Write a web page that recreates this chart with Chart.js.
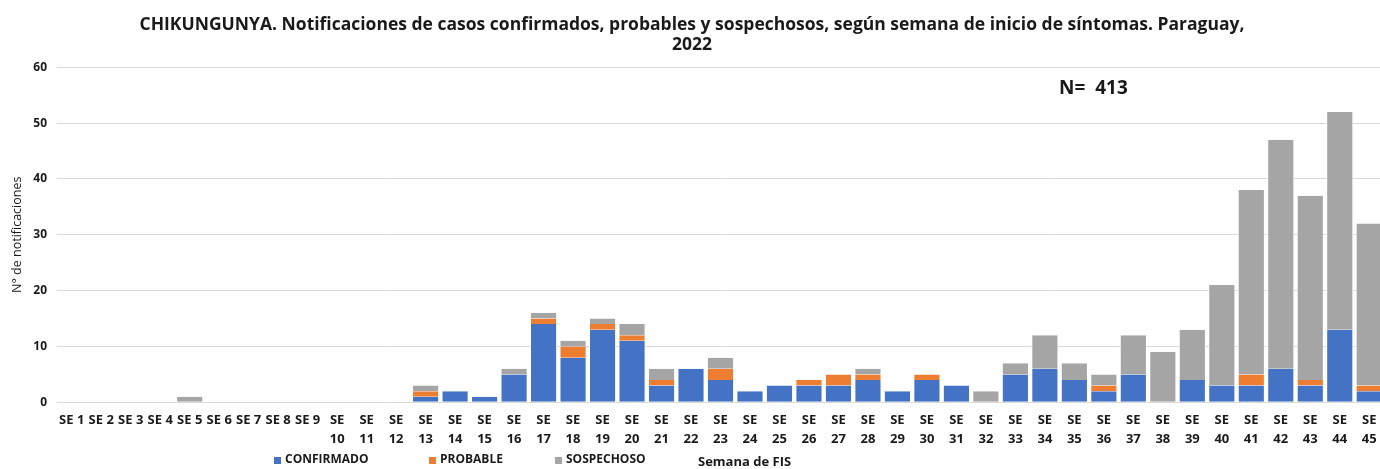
<!DOCTYPE html>
<html lang="es">
<head>
    <meta charset="UTF-8">
    <title>Chikungunya Paraguay 2022</title>
    <style>
        body { margin: 0; padding: 0; background: #fff; overflow: hidden; }
        #wrap { width: 1384px; height: 469px; }
    </style>
</head>
<body>
    <div id="wrap"><canvas id="chart"></canvas></div>

    <script src="https://cdn.jsdelivr.net/npm/chart.js"></script>
    <script>
        // Semanas epidemiologicas
        const semanas = [];
        for (let i = 1; i <= 45; i++) semanas.push(i);
        const etiquetas = semanas.map(s => s < 10 ? 'SE ' + s : ['SE', String(s)]);

        // Casos por semana (SE 1 .. SE 45)
        const confirmado = [0,0,0,0,0,0,0,0,0,0,0,0,1,2,1,5,14,8,13,11,3,6,4,2,3,3,3,4,2,4,3,0,5,6,4,2,5,0,4,3,3,6,3,13,2];
        const probable   = [0,0,0,0,0,0,0,0,0,0,0,0,1,0,0,0,1,2,1,1,1,0,2,0,0,1,2,1,0,1,0,0,0,0,0,1,0,0,0,0,2,0,1,0,1];
        const sospechoso = [0,0,0,0,1,0,0,0,0,0,0,0,1,0,0,1,1,1,1,2,2,0,2,0,0,0,0,1,0,0,0,2,2,6,3,2,7,9,9,18,33,41,33,39,29];

        const yTicks = [0, 10, 20, 30, 40, 50, 60];
        const totalN = 413;

        const azul = '#4472C4';
        const naranja = '#ED7D31';
        const gris = '#A5A5A5';
        const fuente = "'Open Sans', 'Segoe UI', sans-serif";

        // Leyenda, titulo del eje X y anotacion N= dibujados a mano
        const extras = {
            id: 'extras',
            afterDraw(chart) {
                const ctx = chart.ctx;
                ctx.save();
                ctx.textBaseline = 'middle';
                ctx.font = 'bold 12px ' + fuente;
                const items = [
                    { t: 'CONFIRMADO', c: azul, x: 274 },
                    { t: 'PROBABLE', c: naranja, x: 429 },
                    { t: 'SOSPECHOSO', c: gris, x: 555 }
                ];
                items.forEach(it => {
                    ctx.fillStyle = it.c;
                    ctx.fillRect(it.x, 457, 7, 7);
                    ctx.fillStyle = '#1a1a1a';
                    ctx.fillText(it.t, it.x + 11, 460);
                });
                ctx.font = 'bold 13px ' + fuente;
                ctx.fillText('Semana de FIS', 698, 462);

                ctx.font = 'bold 19px ' + fuente;
                ctx.fillText('N=  ' + totalN, 1059, 89);
                ctx.restore();
            }
        };

        new Chart(document.getElementById('chart'), {
            type: 'bar',
            data: {
                labels: etiquetas,
                datasets: [
                    { label: 'CONFIRMADO', data: confirmado, backgroundColor: azul },
                    { label: 'PROBABLE', data: probable, backgroundColor: naranja },
                    { label: 'SOSPECHOSO', data: sospechoso, backgroundColor: gris }
                ]
            },
            options: {
                responsive: true,
                maintainAspectRatio: false,
                animation: false,
                layout: { padding: { left: 0, right: 0, top: 0, bottom: 19 } },
                datasets: {
                    bar: {
                        barPercentage: 0.92,
                        categoryPercentage: 1.0,
                        borderColor: '#ffffff',
                        borderWidth: { left: 1, right: 1, top: 0, bottom: 0 },
                        borderSkipped: false
                    }
                },
                plugins: {
                    legend: { display: false },
                    tooltip: { enabled: false },
                    title: {
                        display: true,
                        text: ['CHIKUNGUNYA. Notificaciones de casos confirmados, probables y sospechosos, según semana de inicio de síntomas. Paraguay,', '2022'],
                        color: '#1a1a1a',
                        font: { family: fuente, size: 17.5, weight: 'bold', lineHeight: 1.15 },
                        padding: { top: 15, bottom: 12 }
                    }
                },
                scales: {
                    x: {
                        stacked: true,
                        grid: { display: false },
                        border: { display: false },
                        ticks: {
                            autoSkip: false,
                            maxRotation: 0,
                            minRotation: 0,
                            color: '#1a1a1a',
                            padding: 1,
                            font: { family: fuente, size: 13, weight: 'bold', lineHeight: 1.45 }
                        }
                    },
                    y: {
                        stacked: true,
                        min: 0,
                        max: 60,
                        afterFit(scale) { scale.width = 57; },
                        afterBuildTicks(scale) { scale.ticks = yTicks.map(v => ({ value: v })); },
                        grid: { color: '#d9d9d9', lineWidth: 1, drawTicks: false },
                        border: { display: false },
                        ticks: {
                            color: '#1a1a1a',
                            padding: 10,
                            font: { family: fuente, size: 12, weight: 'bold' }
                        },
                        title: {
                            display: true,
                            text: 'N° de notificaciones',
                            color: '#1a1a1a',
                            padding: { top: 10, bottom: 0 },
                            font: { family: fuente, size: 12.5 }
                        }
                    }
                }
            },
            plugins: [extras]
        });
    </script>
</body>
</html>
